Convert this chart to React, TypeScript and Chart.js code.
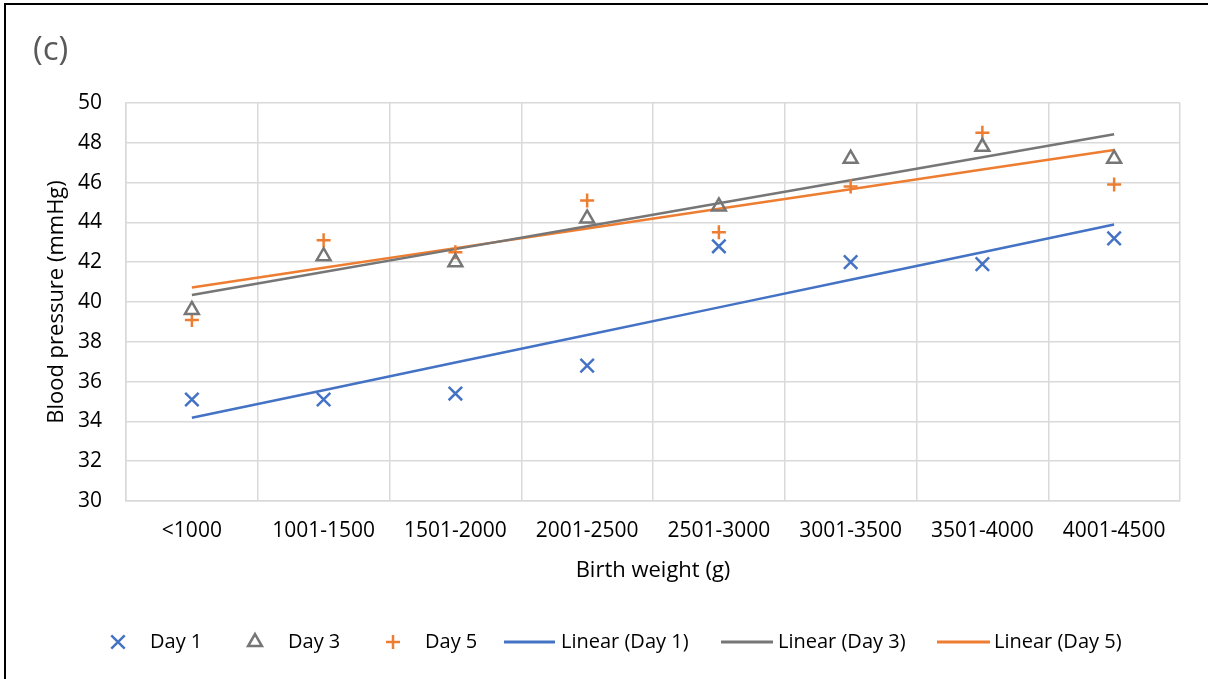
import React, { useEffect, useRef } from "react";
import { Chart, registerables } from "chart.js";

Chart.register(...registerables);

const categories = ["<1000", "1001-1500", "1501-2000", "2001-2500", "2501-3000", "3001-3500", "3501-4000", "4001-4500"];
const day1 = [35.1, 35.1, 35.4, 36.8, 42.8, 42.0, 41.9, 43.2];
const day3 = [39.6, 42.3, 42.0, 44.2, 44.8, 47.2, 47.8, 47.2];
const day5 = [39.1, 43.1, 42.5, 45.1, 43.5, 45.8, 48.5, 45.9];
const yTicks = [30, 32, 34, 36, 38, 40, 42, 44, 46, 48, 50];

const BLUE = "#4472C4";
const GRAY = "#767676";
const ORANGE = "#ED7D31";
const FONT = "'Open Sans', sans-serif";

function linearFit(values: number[]): number[] {
  const n = values.length;
  const xs = values.map((_, i) => i + 1);
  const mx = xs.reduce((a, b) => a + b, 0) / n;
  const my = values.reduce((a, b) => a + b, 0) / n;
  let num = 0;
  let den = 0;
  for (let i = 0; i < n; i++) {
    num += (xs[i] - mx) * (values[i] - my);
    den += (xs[i] - mx) * (xs[i] - mx);
  }
  const slope = num / den;
  return xs.map((x) => my + slope * (x - mx));
}

const frameAndLegend = {
  id: "frameAndLegend",
  afterDraw(chart: any) {
    const ctx = chart.ctx;
    ctx.save();
    // outer frame
    ctx.strokeStyle = "#000";
    ctx.lineWidth = 2;
    ctx.strokeRect(5, 4, 1400, 900);
    // panel label
    ctx.fillStyle = "#595959";
    ctx.font = `33px ${FONT}`;
    ctx.textBaseline = "middle";
    ctx.textAlign = "left";
    ctx.fillText("(c)", 33, 51);

    // legend
    const ly = 642;
    ctx.font = `20px ${FONT}`;
    ctx.fillStyle = "#000";
    const ds = chart.data.datasets;
    const pointItems = [
      { x: 118, tx: 150, idx: 0 },
      { x: 255, tx: 288, idx: 1 },
      { x: 393, tx: 425, idx: 2 },
    ];
    pointItems.forEach((it) => {
      const d = ds[it.idx];
      ctx.save();
      ctx.strokeStyle = d.borderColor;
      ctx.lineWidth = d.borderWidth;
      const r = d.pointRadius;
      const style = d.pointStyle;
      ctx.beginPath();
      if (style === "crossRot") {
        const o = r * Math.SQRT1_2;
        ctx.moveTo(it.x - o, ly - o);
        ctx.lineTo(it.x + o, ly + o);
        ctx.moveTo(it.x + o, ly - o);
        ctx.lineTo(it.x - o, ly + o);
      } else if (style === "triangle") {
        ctx.moveTo(it.x, ly - r);
        ctx.lineTo(it.x + Math.sin((2 * Math.PI) / 3) * r, ly - Math.cos((2 * Math.PI) / 3) * r);
        ctx.lineTo(it.x + Math.sin((4 * Math.PI) / 3) * r, ly - Math.cos((4 * Math.PI) / 3) * r);
        ctx.closePath();
      } else {
        ctx.moveTo(it.x - r, ly);
        ctx.lineTo(it.x + r, ly);
        ctx.moveTo(it.x, ly - r);
        ctx.lineTo(it.x, ly + r);
      }
      ctx.stroke();
      ctx.restore();
      ctx.fillText(d.label, it.tx, ly);
    });
    const lineItems = [
      { x1: 504, x2: 555, tx: 561, idx: 3 },
      { x1: 721, x2: 773, tx: 778, idx: 4 },
      { x1: 937, x2: 990, tx: 994, idx: 5 },
    ];
    lineItems.forEach((it) => {
      const d = ds[it.idx];
      ctx.save();
      ctx.strokeStyle = d.borderColor;
      ctx.lineWidth = 3;
      ctx.beginPath();
      ctx.moveTo(it.x1, ly);
      ctx.lineTo(it.x2, ly);
      ctx.stroke();
      ctx.restore();
      ctx.fillText(d.label, it.tx, ly);
    });
    ctx.restore();
  },
};

export default function App() {
  const ref = useRef<HTMLCanvasElement | null>(null);

  useEffect(() => {
    document.body.style.margin = "0";
    const canvas = ref.current;
    if (!canvas) return;
    const chart = new Chart(canvas, {
      type: "line",
      data: {
        labels: categories,
        datasets: [
          {
            label: "Day 1",
            data: day1,
            showLine: false,
            pointStyle: "crossRot",
            pointRadius: 9.5,
            pointHoverRadius: 9.5,
            borderColor: BLUE,
            backgroundColor: BLUE,
            borderWidth: 2.5,
            pointBorderWidth: 2.5,
          },
          {
            label: "Day 3",
            data: day3,
            showLine: false,
            pointStyle: "triangle",
            pointRadius: 8,
            pointHoverRadius: 8,
            borderColor: GRAY,
            backgroundColor: "rgba(0,0,0,0)",
            borderWidth: 2.5,
            pointBorderWidth: 2.5,
          },
          {
            label: "Day 5",
            data: day5,
            showLine: false,
            pointStyle: "cross",
            pointRadius: 7,
            pointHoverRadius: 7,
            borderColor: ORANGE,
            backgroundColor: ORANGE,
            borderWidth: 2.5,
            pointBorderWidth: 2.5,
          },
          {
            label: "Linear (Day 1)",
            data: linearFit(day1),
            borderColor: BLUE,
            borderWidth: 2.5,
            pointRadius: 0,
            fill: false,
          },
          {
            label: "Linear (Day 3)",
            data: linearFit(day3),
            borderColor: GRAY,
            borderWidth: 2.5,
            pointRadius: 0,
            fill: false,
          },
          {
            label: "Linear (Day 5)",
            data: linearFit(day5),
            borderColor: ORANGE,
            borderWidth: 2.5,
            pointRadius: 0,
            fill: false,
          },
        ],
      },
      options: {
        animation: false,
        responsive: false,
        maintainAspectRatio: false,
        layout: { padding: { left: 0, top: 103, right: 28, bottom: 78 } },
        plugins: {
          legend: { display: false },
          title: { display: false },
          tooltip: { enabled: false },
        },
        scales: {
          x: {
            type: "category",
            offset: true,
            grid: { offset: true, color: "#d9d9d9", lineWidth: 1.5, drawTicks: false },
            border: { display: true, color: "#d9d9d9", width: 1.5 },
            ticks: { color: "#000", font: { family: FONT, size: 21 }, padding: 17, maxRotation: 0, autoSkip: false },
            title: {
              display: true,
              text: "Birth weight (g)",
              color: "#000",
              font: { family: FONT, size: 22 },
              padding: { top: 0, bottom: 17 },
            },
            afterFit: (scale: any) => {
              scale.height = 100;
            },
          },
          y: {
            min: 30,
            max: 50,
            afterBuildTicks: (scale: any) => {
              scale.ticks = yTicks.map((v) => ({ value: v }));
            },
            grid: { color: "#d9d9d9", lineWidth: 1.5, drawTicks: false },
            border: { display: true, color: "#d9d9d9", width: 1.5 },
            ticks: { color: "#000", font: { family: FONT, size: 21 }, padding: 24 },
            title: {
              display: true,
              text: "Blood pressure (mmHg)",
              color: "#000",
              font: { family: FONT, size: 22 },
              padding: { top: 44, bottom: 0 },
            },
            afterFit: (scale: any) => {
              scale.width = 126;
            },
          },
        },
      },
      plugins: [frameAndLegend],
    });
    return () => chart.destroy();
  }, []);

  return (
    <div style={{ width: 1208, height: 679, background: "#fff", overflow: "hidden" }}>
      <canvas ref={ref} width={1208} height={679} style={{ display: "block" }} />
    </div>
  );
}
